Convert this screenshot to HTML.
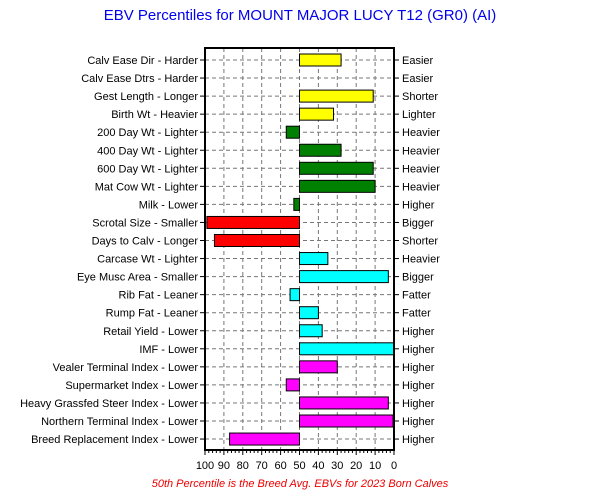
<!DOCTYPE html>
<html><head><meta charset="utf-8"><style>
body{margin:0;background:#fff;}
svg text{font-family:"Liberation Sans",Arial,sans-serif;}
</style></head><body>
<svg width="600" height="495" xmlns="http://www.w3.org/2000/svg">
<rect width="600" height="495" fill="#fff"/>
<text x="300" y="20" text-anchor="middle" font-size="15" fill="#0000ee">EBV Percentiles for MOUNT MAJOR LUCY T12 (GR0) (AI)</text>
<g id="grid"></g><g id="bars"></g><g id="labels"></g>
<rect x="205" y="48" width="189" height="402" fill="none" stroke="#000" stroke-width="2"/>
<g id="axis"></g>
<text x="300" y="487" text-anchor="middle" font-size="11" font-style="italic" fill="#ee0000">50th Percentile is the Breed Avg. EBVs for 2023 Born Calves</text>
</svg>
<script>
const leftLabels=["Calv Ease Dir - Harder","Calv Ease Dtrs - Harder","Gest Length - Longer","Birth Wt - Heavier","200 Day Wt - Lighter","400 Day Wt - Lighter","600 Day Wt - Lighter","Mat Cow Wt - Lighter","Milk - Lower","Scrotal Size - Smaller","Days to Calv - Longer","Carcase Wt - Lighter","Eye Musc Area - Smaller","Rib Fat - Leaner","Rump Fat - Leaner","Retail Yield - Lower","IMF - Lower","Vealer Terminal Index - Lower","Supermarket Index - Lower","Heavy Grassfed Steer Index - Lower","Northern Terminal Index - Lower","Breed Replacement Index - Lower"];
const rightLabels=["Easier","Easier","Shorter","Lighter","Heavier","Heavier","Heavier","Heavier","Higher","Bigger","Shorter","Heavier","Bigger","Fatter","Fatter","Higher","Higher","Higher","Higher","Higher","Higher","Higher"];
const values=[28,null,11,32,57,28,11,10,53,99,95,35,3,55,40,38,0,30,57,3,0.5,87];
const colors=["#ffff00","#ffff00","#ffff00","#ffff00","#008000","#008000","#008000","#008000","#008000","#ff0000","#ff0000","#00ffff","#00ffff","#00ffff","#00ffff","#00ffff","#00ffff","#ff00ff","#ff00ff","#ff00ff","#ff00ff","#ff00ff"];
const ticks=[100,90,80,70,60,50,40,30,20,10,0];
const NS="http://www.w3.org/2000/svg";
const x=v=>394-v*1.89;
const y=i=>60+i*18.05;
function mk(t,a,p){const e=document.createElementNS(NS,t);for(const k in a)e.setAttribute(k,a[k]);p.appendChild(e);return e;}
const grid=document.getElementById('grid'),bars=document.getElementById('bars'),labels=document.getElementById('labels'),axis=document.getElementById('axis');
ticks.forEach(t=>{
 if(t>0&&t<100){const l=mk('line',{x1:x(t),x2:x(t),y1:48,y2:450,stroke:'#777','stroke-dasharray':'4,3'},grid);
 
 }
 const tx=mk('text',{x:x(t),y:469,'text-anchor':'middle','font-size':11},axis);tx.textContent=t;
 
 
});
for(let v=0;v<=100;v+=2){const tk=mk('line',{x1:x(v),x2:x(v),y1:450,y2:v%10==0?455:453,stroke:'#000'},axis);
 
 }
leftLabels.forEach((lb,i)=>{
 const yy=y(i);
 const g=mk('line',{x1:205,x2:394,y1:yy,y2:yy,stroke:'#777','stroke-dasharray':'4,3'},grid);
 
 
 mk('line',{x1:200,x2:205,y1:yy,y2:yy,stroke:'#000'},axis);
 mk('line',{x1:394,x2:399,y1:yy,y2:yy,stroke:'#000'},axis);
 const t=mk('text',{x:198,y:yy+4,'text-anchor':'end','font-size':11},labels);t.textContent=lb;
 
 
 const r=mk('text',{x:402,y:yy+4,'font-size':11},labels);r.textContent=rightLabels[i];
 
 
 const v=values[i];
 if(v!==null){const x0=Math.min(x(50),x(v)),w=Math.abs(x(v)-x(50));
 const b=mk('rect',{x:x0,y:yy-6,width:w,height:12,fill:colors[i],stroke:'#000','stroke-width':1},bars);
 
 }
});
</script>
</body></html>
